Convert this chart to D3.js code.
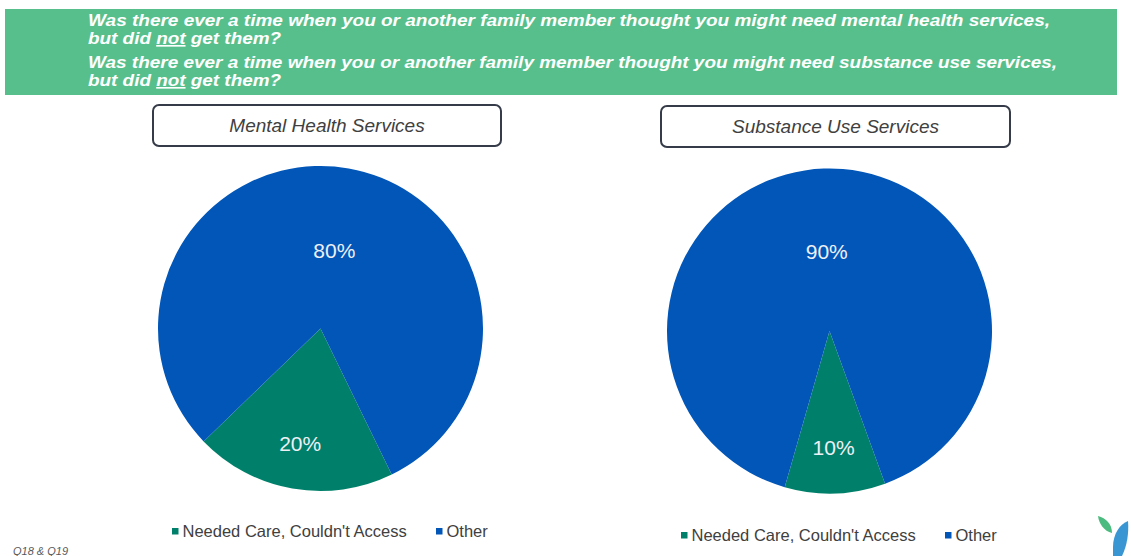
<!DOCTYPE html>
<html>
<head>
<meta charset="utf-8">
<script src="https://cdn.jsdelivr.net/npm/d3@7.9.0/dist/d3.min.js"></script>
<style>
  html, body { margin: 0; padding: 0; background: #fff; }
  svg { display: block; }
</style>
</head>
<body>
<div id="chart"></div>
<script>
// question lines in the header band ([before, underlined, after])
const questionLines = [
  ['Was there ever a time when you or another family member thought you might need mental health services,', '', ''],
  ['but did ', 'not', ' get them?'],
  ['Was there ever a time when you or another family member thought you might need substance use services,', '', ''],
  ['but did ', 'not', ' get them?']
];

const categories = ['Needed Care, Couldn\'t Access', 'Other'];
const pieTitles = ['Mental Health Services', 'Substance Use Services'];
const mentalHealth = [20, 80];
const substanceUse = [10, 90];
const footnote = 'Q18 & Q19';

const width = 1131, height = 556;
const colors = d3.scaleOrdinal().domain(categories).range(['#00806a', '#0156b8']);

const svg = d3.select('#chart').append('svg')
  .attr('width', width)
  .attr('height', height)
  .style('font-family', 'Liberation Sans, Arial, sans-serif');

// header band
svg.append('rect')
  .attr('x', 5).attr('y', 9)
  .attr('width', 1112).attr('height', 86)
  .attr('fill', '#57bf8c');

const lineY = [26, 44, 68, 86];
const lineW = [962, 193, 969, 193];
questionLines.forEach((parts, i) => {
  const t = svg.append('text')
    .attr('x', 88).attr('y', lineY[i])
    .attr('fill', '#fff')
    .attr('font-family', 'Liberation Sans Narrow, Arial Narrow, Liberation Sans, sans-serif')
    .attr('font-weight', 'bold')
    .attr('font-style', 'italic')
    .attr('font-size', 16.5)
    .attr('textLength', lineW[i])
    .attr('lengthAdjust', 'spacingAndGlyphs');
  t.append('tspan').text(parts[0]);
  if (parts[1]) {
    t.append('tspan').style('text-decoration', 'underline').text(parts[1]);
    t.append('tspan').text(parts[2]);
  }
});

// one pie block per survey question
const blocks = [
  { title: pieTitles[0], values: mentalHealth, cx: 320.5, cy: 328.5, start: 154, box: [153, 105, 348, 41], legendX: 172, legendY: 537 },
  { title: pieTitles[1], values: substanceUse, cx: 829.5, cy: 331, start: 160, box: [661, 106, 349, 41], legendX: 681, legendY: 541 }
];

const r = 162.5;
const arc = d3.arc().innerRadius(0).outerRadius(r);

blocks.forEach(b => {
  // title box
  svg.append('rect')
    .attr('x', b.box[0]).attr('y', b.box[1])
    .attr('width', b.box[2]).attr('height', b.box[3])
    .attr('rx', 6)
    .attr('fill', '#fff')
    .attr('stroke', '#353b48')
    .attr('stroke-width', 2);
  svg.append('text')
    .attr('x', b.box[0] + b.box[2] / 2)
    .attr('y', b.box[1] + b.box[3] / 2 + 6.5)
    .attr('text-anchor', 'middle')
    .attr('font-style', 'italic')
    .attr('font-size', 19)
    .attr('fill', '#404040')
    .text(b.title);

  const startRad = b.start * Math.PI / 180;
  const pie = d3.pie().sort(null).startAngle(startRad).endAngle(startRad + 2 * Math.PI);
  const rows = categories.map((c, i) => ({ cat: c, value: b.values[i] }));
  const arcs = pie.value(d => d.value)(rows);

  const g = svg.append('g').attr('transform', `translate(${b.cx},${b.cy})`);
  g.selectAll('path')
    .data(arcs)
    .join('path')
    .attr('d', arc)
    .attr('fill', d => colors(d.data.cat));

  // labels: small slices sit nearer the rim
  g.selectAll('text')
    .data(arcs)
    .join('text')
    .attr('transform', d => {
      const a = (d.startAngle + d.endAngle) / 2;
      const lr = d.data.value < 50 ? r * 0.72 : r * 0.49;
      return `translate(${Math.sin(a) * lr},${-Math.cos(a) * lr + 7.5})`;
    })
    .attr('text-anchor', 'middle')
    .attr('font-size', 21)
    .attr('fill', '#eef0f6')
    .text(d => d.data.value + '%');

  // legend
  const lg = svg.append('g').attr('transform', `translate(${b.legendX},${b.legendY})`);
  const offsets = [0, 264];
  categories.forEach((c, i) => {
    lg.append('rect')
      .attr('x', offsets[i]).attr('y', -9)
      .attr('width', 6.5).attr('height', 6.5)
      .attr('fill', colors(c));
    lg.append('text')
      .attr('x', offsets[i] + 10.5).attr('y', 0)
      .attr('font-size', 16.5)
      .attr('fill', '#404040')
      .text(c);
  });
});

// footnote
svg.append('text')
  .attr('x', 13).attr('y', 555)
  .attr('font-size', 11)
  .attr('font-style', 'italic')
  .attr('fill', '#595959')
  .text(footnote);

// logo leaves
const logo = svg.append('g');
logo.append('path')
  .attr('d', 'M1098,516 C1106,518 1112,524 1112,533 C1104,531 1099,524 1098,516 Z')
  .attr('fill', '#4cbb7f');
logo.append('path')
  .attr('d', 'M1128,521 C1120,524 1113,534 1113,547 L1113,556 L1122,556 C1127,546 1129,533 1128,521 Z')
  .attr('fill', '#3a96d3');
</script>
</body>
</html>
